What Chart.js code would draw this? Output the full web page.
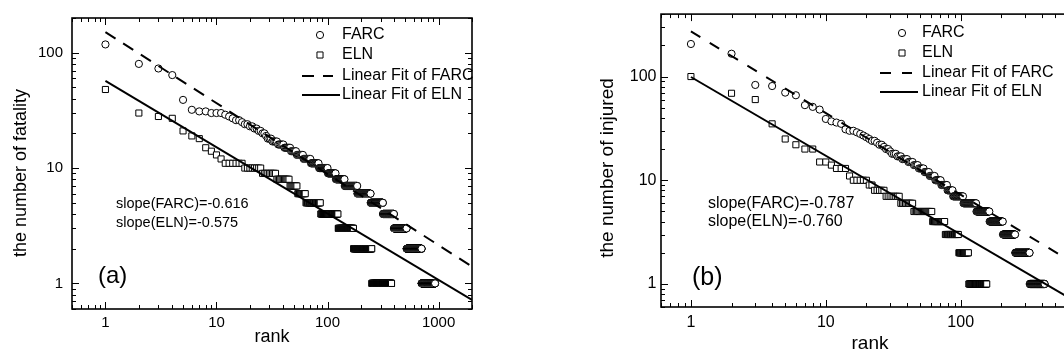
<!DOCTYPE html>
<html>
<head>
<meta charset="utf-8">
<title>rank plots</title>
<script src="https://cdn.jsdelivr.net/npm/chart.js@4.4.1/dist/chart.umd.min.js"></script>
<style>
  html, body { margin: 0; padding: 0; background: #fff; overflow: hidden; }
  body { position: relative; width: 1064px; height: 358px; }
  canvas { position: absolute; top: 0; }
  #panelA { left: 0; }
  #panelB { left: 540px; }
</style>
</head>
<body>
<canvas id="panelA" width="520" height="358"></canvas>
<canvas id="panelB" width="600" height="358"></canvas>
<script>
const FONT = '"Liberation Sans", Arial, Helvetica, sans-serif';

const legendLabels = ['FARC', 'ELN', 'Linear Fit of FARC', 'Linear Fit of ELN'];

// (a) fatalities: each value and how many records share it, in rank order
const farcFatalValues = [118, 80, 73, 64, 39, 32, 31, 30, 29, 28, 27, 26, 25, 24, 23, 22, 21, 20, 19, 18, 17, 16, 15, 14, 13, 12, 11, 10, 9, 8, 7, 6, 5, 4, 3, 2, 1];
const farcFatalCounts = [1, 1, 1, 1, 1, 1, 2, 3, 1, 1, 1, 2, 1, 2, 2, 2, 2, 2, 1, 3, 4, 5, 6, 6, 8, 10, 13, 17, 18, 24, 43, 59, 71, 81, 119, 188, 227];
const elnFatalValues = [48, 30, 28, 27, 21, 19, 18, 15, 14, 13, 12, 11, 10, 9, 8, 7, 6, 5, 4, 3, 2, 1];
const elnFatalCounts = [1, 1, 1, 1, 1, 1, 1, 1, 1, 1, 1, 6, 8, 9, 11, 8, 10, 23, 38, 47, 79, 127];
const fitRankA = [1, 2000];
const fitFarcFatal = [151, 1.40];
const fitElnFatal = [57, 0.72];
const slopeTextA = ['slope(FARC)=-0.616', 'slope(ELN)=-0.575'];
const xTicksA = [1, 10, 100, 1000];
const yTicksA = [1, 10, 100];

// (b) injured
const farcInjValues = [206, 166, 83, 81, 70, 66, 53, 51, 48, 39, 37, 36, 35, 31, 30, 29, 28, 27, 26, 25, 24, 23, 22, 21, 20, 19, 18, 17, 16, 15, 14, 13, 12, 11, 10, 9, 8, 7, 6, 5, 4, 3, 2, 1];
const farcInjCounts = [1, 1, 1, 1, 1, 1, 1, 1, 1, 1, 1, 1, 1, 1, 2, 1, 1, 1, 1, 1, 2, 1, 2, 1, 2, 1, 3, 3, 4, 4, 4, 5, 5, 6, 7, 8, 8, 17, 26, 33, 42, 48, 71, 95];
const elnInjValues = [100, 69, 60, 35, 25, 22, 20, 15, 14, 13, 11, 10, 9, 8, 7, 6, 5, 4, 3, 2, 1];
const elnInjCounts = [1, 1, 1, 1, 1, 1, 2, 2, 1, 3, 1, 5, 2, 5, 8, 9, 17, 15, 20, 18, 42];
const fitRankB = [1, 800];
const fitFarcInj = [272, 1.41];
const fitElnInj = [99, 0.62];
const slopeTextB = ['slope(FARC)=-0.787', 'slope(ELN)=-0.760'];
const xTicksB = [1, 10, 100];
const yTicksB = [1, 10, 100];

// expand value runs into rank/value points
function rankPoints(values, counts) {
  const pts = [];
  let rank = 1;
  values.forEach((v, i) => {
    for (let k = 0; k < counts[i]; k++) pts.push({x: rank++, y: v});
  });
  return pts;
}

// 1..9 per decade, for the small inside tick marks
function logSteps(min, max) {
  const out = [];
  for (let e = Math.floor(Math.log10(min)); e <= Math.ceil(Math.log10(max)); e++) {
    for (let m = 1; m <= 9; m++) {
      const v = m * Math.pow(10, e);
      if (v >= min * 0.9999 && v <= max * 1.0001) out.push({v: v, major: m === 1});
    }
  }
  return out;
}

function drawMarker(ctx, style, r, x, y) {
  ctx.beginPath();
  if (style === 'rect') {
    const s = r * Math.SQRT1_2;
    ctx.rect(x - s, y - s, 2 * s, 2 * s);
  } else {
    ctx.arc(x, y, r, 0, Math.PI * 2);
  }
  ctx.fillStyle = '#fff';
  ctx.fill();
  ctx.lineWidth = 1;
  ctx.strokeStyle = '#000';
  ctx.stroke();
}

function decor(cfg) {
  return {
    id: 'decor',
    afterDatasetsDraw(chart) {
      const ctx = chart.ctx;
      const area = chart.chartArea;
      const xs = chart.scales.x, ys = chart.scales.y;
      const off = cfg.offsetX;
      ctx.save();
      ctx.strokeStyle = '#000';
      ctx.fillStyle = '#000';

      ctx.lineWidth = 1;
      ctx.beginPath();
      logSteps(xs.min, xs.max).forEach(t => {
        const px = Math.round(xs.getPixelForValue(t.v)) + 0.5;
        const len = t.major ? 7 : 4;
        ctx.moveTo(px, area.bottom); ctx.lineTo(px, area.bottom - len);
        ctx.moveTo(px, area.top); ctx.lineTo(px, area.top + len);
      });
      logSteps(ys.min, ys.max).forEach(t => {
        const py = Math.round(ys.getPixelForValue(t.v)) + 0.5;
        const len = t.major ? 7 : 4;
        ctx.moveTo(area.left, py); ctx.lineTo(area.left + len, py);
        ctx.moveTo(area.right, py); ctx.lineTo(area.right - len, py);
      });
      ctx.stroke();

      ctx.lineWidth = 1.6;
      ctx.strokeRect(area.left, area.top, area.right - area.left, area.bottom - area.top);

      // axis titles
      ctx.fillStyle = '#000';
      ctx.font = cfg.titleSize + 'px ' + FONT;
      ctx.textAlign = 'center';
      ctx.textBaseline = 'middle';
      ctx.fillText('rank', cfg.xTitle[0] - off, cfg.xTitle[1]);
      ctx.save();
      ctx.translate(cfg.yTitle[0] - off, cfg.yTitle[1]);
      ctx.rotate(-Math.PI / 2);
      ctx.fillText(cfg.yTitleText, 0, 0);
      ctx.restore();

      // legend
      const lg = cfg.legend;
      const sets = chart.data.datasets;
      ctx.textAlign = 'left';
      ctx.font = lg.size + 'px ' + FONT;
      legendLabels.forEach((label, i) => {
        const ds = sets.find(d => d.label === label);
        const y = lg.rows[i];
        if (ds.showLine) {
          ctx.save();
          ctx.lineWidth = ds.borderWidth;
          ctx.setLineDash(ds.borderDash || []);
          ctx.beginPath();
          ctx.moveTo(lg.line0 - off, y);
          ctx.lineTo((ds.borderDash ? lg.dash1 : lg.line1) - off, y);
          ctx.stroke();
          ctx.restore();
        } else {
          drawMarker(ctx, ds.pointStyle, ds.pointRadius, lg.marker - off, y);
        }
        ctx.fillStyle = '#000';
        ctx.fillText(label, lg.text - off, y);
      });

      // slopes and panel tag
      ctx.font = cfg.noteSize + 'px ' + FONT;
      cfg.notes.forEach((t, i) => ctx.fillText(t, cfg.noteX - off, cfg.noteRows[i]));
      ctx.font = cfg.tagSize + 'px ' + FONT;
      ctx.fillText(cfg.tag, cfg.tagPos[0] - off, cfg.tagPos[1]);
      ctx.restore();
    }
  };
}

function buildPanel(cfg) {
  const farcPts = rankPoints(cfg.farcValues, cfg.farcCounts);
  const elnPts = rankPoints(cfg.elnValues, cfg.elnCounts);
  const fitFarc = cfg.fitRank.map((r, i) => ({x: r, y: cfg.fitFarc[i]}));
  const fitEln = cfg.fitRank.map((r, i) => ({x: r, y: cfg.fitEln[i]}));
  const tickFont = {family: FONT, size: cfg.tickSize, lineHeight: 1.2};

  return new Chart(document.getElementById(cfg.id), {
    type: 'scatter',
    data: {
      datasets: [
        {label: legendLabels[2], data: fitFarc, showLine: true, borderColor: '#000', borderWidth: 2,
         borderDash: cfg.dash, pointRadius: 0, order: 0},
        {label: legendLabels[3], data: fitEln, showLine: true, borderColor: '#000', borderWidth: 2,
         pointRadius: 0, order: 1},
        {label: legendLabels[0], data: farcPts, pointStyle: 'circle', pointRadius: 3.6,
         pointBackgroundColor: '#fff', pointBorderColor: '#000', pointBorderWidth: 1, order: 2},
        {label: legendLabels[1], data: elnPts, pointStyle: 'rect', pointRadius: 4.3,
         pointBackgroundColor: '#fff', pointBorderColor: '#000', pointBorderWidth: 1, order: 3}
      ]
    },
    options: {
      responsive: false,
      animation: false,
      devicePixelRatio: 1,
      layout: {padding: {left: 0, top: cfg.padTop, right: cfg.padRight, bottom: 0}},
      plugins: {legend: {display: false}, tooltip: {enabled: false}},
      scales: {
        x: {
          type: 'logarithmic', position: 'bottom', min: cfg.xMin, max: cfg.xMax,
          grid: {display: false, drawTicks: false}, border: {display: false},
          ticks: {autoSkip: false, maxRotation: 0, padding: cfg.xTickPad, color: '#000',
                  font: tickFont, callback: v => String(v)},
          afterBuildTicks: s => { s.ticks = cfg.xTicks.map(v => ({value: v})); },
          afterFit: s => { s.height = cfg.xAxisH; }
        },
        y: {
          type: 'logarithmic', position: 'left', min: cfg.yMin, max: cfg.yMax,
          grid: {display: false, drawTicks: false}, border: {display: false},
          ticks: {autoSkip: false, padding: cfg.yTickPad, color: '#000',
                  font: tickFont, callback: v => String(v)},
          afterBuildTicks: s => { s.ticks = cfg.yTicks.map(v => ({value: v})); },
          afterFit: s => { s.width = cfg.yAxisW; }
        }
      }
    },
    plugins: [decor(cfg)]
  });
}

buildPanel({
  id: 'panelA', offsetX: 0,
  farcValues: farcFatalValues, farcCounts: farcFatalCounts,
  elnValues: elnFatalValues, elnCounts: elnFatalCounts,
  fitRank: fitRankA, fitFarc: fitFarcFatal, fitEln: fitElnFatal,
  xTicks: xTicksA, yTicks: yTicksA,
  xMin: 0.5, xMax: 2000, yMin: 0.6, yMax: 200,
  padTop: 16, padRight: 48, yAxisW: 72, xAxisH: 49,
  tickSize: 15, xTickPad: 5, yTickPad: 9,
  dash: [12, 9],
  titleSize: 18, xTitle: [272, 337.5], yTitle: [21, 173], yTitleText: 'the number of fatality',
  legend: {size: 16, marker: 320, line0: 302, line1: 340, dash1: 333, text: 342, rows: [35, 55, 76, 95]},
  notes: slopeTextA, noteSize: 14.5, noteX: 116, noteRows: [204, 222.5],
  tag: '(a)', tagSize: 24, tagPos: [98, 276]
});

buildPanel({
  id: 'panelB', offsetX: 540,
  farcValues: farcInjValues, farcCounts: farcInjCounts,
  elnValues: elnInjValues, elnCounts: elnInjCounts,
  fitRank: fitRankB, fitFarc: fitFarcInj, fitEln: fitElnInj,
  xTicks: xTicksB, yTicks: yTicksB,
  xMin: 0.6, xMax: 800, yMin: 0.6, yMax: 400,
  padTop: 6, padRight: 57.5, yAxisW: 121, xAxisH: 51,
  tickSize: 16, xTickPad: 6, yTickPad: 4.5,
  dash: [11, 11],
  titleSize: 19, xTitle: [870, 344], yTitle: [608, 168], yTitleText: 'the number of injured',
  legend: {size: 16, marker: 902, line0: 880, line1: 918, dash1: 912, text: 922, rows: [33, 53, 73, 92]},
  notes: slopeTextB, noteSize: 16, noteX: 708, noteRows: [204, 222],
  tag: '(b)', tagSize: 25, tagPos: [692, 278]
});
</script>
</body>
</html>
